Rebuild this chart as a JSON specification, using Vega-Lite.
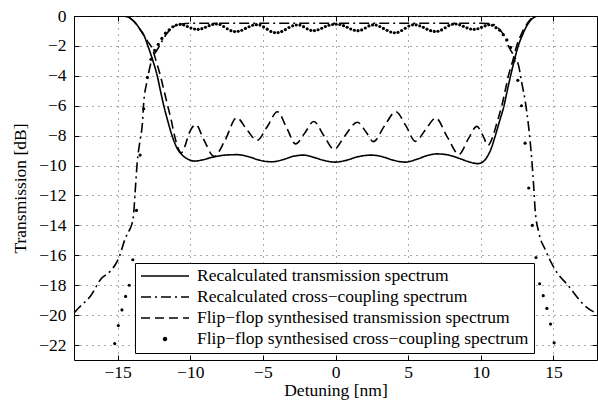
{
 "$schema": "https://vega.github.io/schema/vega-lite/v6.json",
 "width": 523, "height": 344,
 "autosize": {"type": "none"},
 "padding": {"left": 74, "top": 16, "right": 1, "bottom": 41},
 "background": "white",
 "config": {
  "view": {"stroke": "black", "strokeWidth": 1},
  "font": "Liberation Serif",
  "axis": {"labelFont": "Liberation Serif", "labelFontSize": 17.5, "labelColor": "black", "titleFont": "Liberation Serif", "titleFontSize": 17.5, "titleFontWeight": "normal", "titleColor": "black", "tickColor": "black", "tickSize": -5, "domain": false}
 },
 "data": {"values": [
  {"s":"a","x":-18,"y":0},{"s":"a","x":-15,"y":0},{"s":"a","x":-14.5,"y":-0.02},{"s":"a","x":-14.2,"y":-0.1},{"s":"a","x":-14.0,"y":-0.25},{"s":"a","x":-13.7,"y":-0.55},{"s":"a","x":-13.45,"y":-0.9},{"s":"a","x":-13.2,"y":-1.25},{"s":"a","x":-12.95,"y":-1.9},{"s":"a","x":-12.6,"y":-2.9},{"s":"a","x":-12.27,"y":-4.0},{"s":"a","x":-12.05,"y":-5.0},{"s":"a","x":-11.82,"y":-6.0},{"s":"a","x":-11.55,"y":-7.0},{"s":"a","x":-11.25,"y":-8.0},{"s":"a","x":-10.95,"y":-8.75},{"s":"a","x":-10.6,"y":-9.25},{"s":"a","x":-10.2,"y":-9.55},{"s":"a","x":-9.7,"y":-9.7},{"s":"a","x":-9.2,"y":-9.63},{"s":"a","x":-8.5,"y":-9.45},{"s":"a","x":-7.6,"y":-9.3},{"s":"a","x":-6.8,"y":-9.27},{"s":"a","x":-6.0,"y":-9.4},{"s":"a","x":-5.2,"y":-9.65},{"s":"a","x":-4.4,"y":-9.75},{"s":"a","x":-3.6,"y":-9.6},{"s":"a","x":-2.9,"y":-9.38},{"s":"a","x":-2.2,"y":-9.3},{"s":"a","x":-1.5,"y":-9.45},{"s":"a","x":-0.7,"y":-9.68},{"s":"a","x":0,"y":-9.77},{"s":"a","x":0.7,"y":-9.66},{"s":"a","x":1.5,"y":-9.42},{"s":"a","x":2.45,"y":-9.3},{"s":"a","x":3.2,"y":-9.4},{"s":"a","x":4.0,"y":-9.65},{"s":"a","x":4.8,"y":-9.77},{"s":"a","x":5.6,"y":-9.58},{"s":"a","x":6.3,"y":-9.33},{"s":"a","x":7.0,"y":-9.22},{"s":"a","x":7.8,"y":-9.3},{"s":"a","x":8.6,"y":-9.55},{"s":"a","x":9.3,"y":-9.78},{"s":"a","x":9.8,"y":-9.87},{"s":"a","x":10.15,"y":-9.75},{"s":"a","x":10.45,"y":-9.4},{"s":"a","x":10.7,"y":-8.9},{"s":"a","x":11.0,"y":-8.0},{"s":"a","x":11.3,"y":-7.0},{"s":"a","x":11.6,"y":-6.0},{"s":"a","x":11.82,"y":-5.0},{"s":"a","x":12.05,"y":-4.0},{"s":"a","x":12.3,"y":-3.0},{"s":"a","x":12.58,"y":-2.0},{"s":"a","x":12.9,"y":-1.2},{"s":"a","x":13.2,"y":-0.6},{"s":"a","x":13.5,"y":-0.22},{"s":"a","x":13.72,"y":-0.06},{"s":"a","x":14,"y":0},{"s":"a","x":18,"y":0},
  {"s":"b","x":-18,"y":-19.85},{"s":"b","x":-17.65,"y":-19.49},{"s":"b","x":-16.85,"y":-18.71},{"s":"b","x":-16.16,"y":-17.6},{"s":"b","x":-15.48,"y":-17.04},{"s":"b","x":-15.14,"y":-16.6},{"s":"b","x":-14.91,"y":-16.16},{"s":"b","x":-14.45,"y":-14.82},{"s":"b","x":-14.22,"y":-14.38},{"s":"b","x":-13.99,"y":-13.82},{"s":"b","x":-13.9,"y":-13.3},{"s":"b","x":-13.8,"y":-11.9},{"s":"b","x":-13.65,"y":-9.82},{"s":"b","x":-13.45,"y":-8.3},{"s":"b","x":-13.3,"y":-7.27},{"s":"b","x":-13.2,"y":-5.8},{"s":"b","x":-12.97,"y":-4.35},{"s":"b","x":-12.62,"y":-2.85},{"s":"b","x":-12.28,"y":-2.27},{"s":"b","x":-11.95,"y":-1.7},{"s":"b","x":-11.6,"y":-1.16},{"s":"b","x":-11.2,"y":-0.75},{"s":"b","x":-10.9,"y":-0.6},{"s":"b","x":-10.5,"y":-0.52},{"s":"b","x":-10,"y":-0.48},{"s":"b","x":-5,"y":-0.48},{"s":"b","x":0,"y":-0.48},{"s":"b","x":5,"y":-0.48},{"s":"b","x":10,"y":-0.48},{"s":"b","x":10.7,"y":-0.52},{"s":"b","x":11.2,"y":-0.8},{"s":"b","x":11.6,"y":-1.3},{"s":"b","x":11.92,"y":-2.04},{"s":"b","x":12.3,"y":-2.7},{"s":"b","x":12.6,"y":-3.3},{"s":"b","x":12.83,"y":-4.5},{"s":"b","x":13.06,"y":-5.7},{"s":"b","x":13.29,"y":-7.38},{"s":"b","x":13.51,"y":-9.6},{"s":"b","x":13.65,"y":-11.5},{"s":"b","x":13.74,"y":-12.93},{"s":"b","x":14.0,"y":-14.5},{"s":"b","x":14.43,"y":-15.6},{"s":"b","x":15.1,"y":-16.93},{"s":"b","x":16.03,"y":-18.04},{"s":"b","x":17.17,"y":-19.38},{"s":"b","x":18,"y":-19.9},
  {"s":"c","x":-18,"y":0},{"s":"c","x":-15,"y":0},{"s":"c","x":-14.5,"y":-0.02},{"s":"c","x":-14.2,"y":-0.1},{"s":"c","x":-14.0,"y":-0.25},{"s":"c","x":-13.7,"y":-0.55},{"s":"c","x":-13.45,"y":-0.9},{"s":"c","x":-13.2,"y":-1.3},{"s":"c","x":-12.9,"y":-1.75},{"s":"c","x":-12.65,"y":-2.1},{"s":"c","x":-12.35,"y":-3.0},{"s":"c","x":-12.05,"y":-4.0},{"s":"c","x":-11.8,"y":-5.0},{"s":"c","x":-11.55,"y":-6.0},{"s":"c","x":-11.3,"y":-7.0},{"s":"c","x":-11.08,"y":-8.0},{"s":"c","x":-10.85,"y":-8.8},{"s":"c","x":-10.62,"y":-9.15},{"s":"c","x":-10.4,"y":-8.8},{"s":"c","x":-10.1,"y":-7.9},{"s":"c","x":-9.6,"y":-7.27},{"s":"c","x":-9.1,"y":-8.2},{"s":"c","x":-8.35,"y":-9.38},{"s":"c","x":-7.6,"y":-8.3},{"s":"c","x":-6.8,"y":-6.8},{"s":"c","x":-6.1,"y":-7.6},{"s":"c","x":-5.4,"y":-8.32},{"s":"c","x":-4.7,"y":-7.4},{"s":"c","x":-4.0,"y":-6.4},{"s":"c","x":-3.35,"y":-7.5},{"s":"c","x":-2.75,"y":-8.55},{"s":"c","x":-2.1,"y":-7.8},{"s":"c","x":-1.5,"y":-7.05},{"s":"c","x":-0.8,"y":-8.0},{"s":"c","x":-0.1,"y":-8.9},{"s":"c","x":0.65,"y":-8.0},{"s":"c","x":1.5,"y":-7.1},{"s":"c","x":2.1,"y":-7.75},{"s":"c","x":2.6,"y":-8.4},{"s":"c","x":3.4,"y":-7.3},{"s":"c","x":4.15,"y":-6.4},{"s":"c","x":4.85,"y":-7.35},{"s":"c","x":5.5,"y":-8.38},{"s":"c","x":6.2,"y":-7.6},{"s":"c","x":6.9,"y":-6.82},{"s":"c","x":7.7,"y":-8.1},{"s":"c","x":8.5,"y":-9.25},{"s":"c","x":9.15,"y":-8.2},{"s":"c","x":9.73,"y":-7.38},{"s":"c","x":10.15,"y":-8.0},{"s":"c","x":10.5,"y":-8.65},{"s":"c","x":10.85,"y":-8.0},{"s":"c","x":11.15,"y":-7.0},{"s":"c","x":11.45,"y":-6.0},{"s":"c","x":11.68,"y":-5.0},{"s":"c","x":11.9,"y":-4.0},{"s":"c","x":12.2,"y":-3.0},{"s":"c","x":12.47,"y":-2.0},{"s":"c","x":12.85,"y":-1.1},{"s":"c","x":13.2,"y":-0.5},{"s":"c","x":13.5,"y":-0.15},{"s":"c","x":13.7,"y":-0.04},{"s":"c","x":14,"y":0},{"s":"c","x":18,"y":0},
  {"s":"d","x":-15.2,"y":-21.9},{"s":"d","x":-14.95,"y":-20.7},{"s":"d","x":-14.7,"y":-19.65},{"s":"d","x":-14.45,"y":-18.75},{"s":"d","x":-14.2,"y":-18.0},{"s":"d","x":-13.95,"y":-16.3},{"s":"d","x":-13.7,"y":-13.0},{"s":"d","x":-13.45,"y":-9.3},{"s":"d","x":-13.2,"y":-6.2},{"s":"d","x":-12.95,"y":-4.1},{"s":"d","x":-12.7,"y":-2.9},{"s":"d","x":-12.45,"y":-2.3},{"s":"d","x":-12.2,"y":-1.9},{"s":"d","x":-11.95,"y":-1.5},{"s":"d","x":-11.7,"y":-1.15},{"s":"d","x":-11.45,"y":-0.92},{"s":"d","x":-11.2,"y":-0.72},{"s":"d","x":-10.95,"y":-0.6},{"s":"d","x":-10.7,"y":-0.56},{"s":"d","x":-10.45,"y":-0.6},{"s":"d","x":-10.2,"y":-0.7},{"s":"d","x":-9.95,"y":-0.8},{"s":"d","x":-9.7,"y":-0.87},{"s":"d","x":-9.45,"y":-0.89},{"s":"d","x":-9.2,"y":-0.845},{"s":"d","x":-8.95,"y":-0.75},{"s":"d","x":-8.7,"y":-0.645},{"s":"d","x":-8.45,"y":-0.56},{"s":"d","x":-8.2,"y":-0.53},{"s":"d","x":-7.95,"y":-0.57},{"s":"d","x":-7.7,"y":-0.7},{"s":"d","x":-7.45,"y":-0.85},{"s":"d","x":-7.2,"y":-0.98},{"s":"d","x":-6.95,"y":-1.04},{"s":"d","x":-6.7,"y":-1.02},{"s":"d","x":-6.45,"y":-0.95},{"s":"d","x":-6.2,"y":-0.83},{"s":"d","x":-5.95,"y":-0.72},{"s":"d","x":-5.7,"y":-0.62},{"s":"d","x":-5.45,"y":-0.58},{"s":"d","x":-5.2,"y":-0.61},{"s":"d","x":-4.95,"y":-0.73},{"s":"d","x":-4.7,"y":-0.88},{"s":"d","x":-4.45,"y":-1.03},{"s":"d","x":-4.2,"y":-1.11},{"s":"d","x":-3.95,"y":-1.11},{"s":"d","x":-3.7,"y":-1.03},{"s":"d","x":-3.45,"y":-0.91},{"s":"d","x":-3.2,"y":-0.77},{"s":"d","x":-2.95,"y":-0.66},{"s":"d","x":-2.7,"y":-0.6},{"s":"d","x":-2.45,"y":-0.61},{"s":"d","x":-2.2,"y":-0.715},{"s":"d","x":-1.95,"y":-0.86},{"s":"d","x":-1.7,"y":-0.96},{"s":"d","x":-1.45,"y":-0.975},{"s":"d","x":-1.2,"y":-0.92},{"s":"d","x":-0.95,"y":-0.82},{"s":"d","x":-0.7,"y":-0.71},{"s":"d","x":-0.45,"y":-0.62},{"s":"d","x":-0.2,"y":-0.57},{"s":"d","x":0.05,"y":-0.55},{"s":"d","x":0.3,"y":-0.57},{"s":"d","x":0.55,"y":-0.645},{"s":"d","x":0.8,"y":-0.75},{"s":"d","x":1.05,"y":-0.87},{"s":"d","x":1.3,"y":-0.95},{"s":"d","x":1.55,"y":-0.98},{"s":"d","x":1.8,"y":-0.93},{"s":"d","x":2.05,"y":-0.8},{"s":"d","x":2.3,"y":-0.665},{"s":"d","x":2.55,"y":-0.595},{"s":"d","x":2.8,"y":-0.61},{"s":"d","x":3.05,"y":-0.7},{"s":"d","x":3.3,"y":-0.83},{"s":"d","x":3.55,"y":-0.96},{"s":"d","x":3.8,"y":-1.07},{"s":"d","x":4.05,"y":-1.12},{"s":"d","x":4.3,"y":-1.09},{"s":"d","x":4.55,"y":-0.97},{"s":"d","x":4.8,"y":-0.82},{"s":"d","x":5.05,"y":-0.67},{"s":"d","x":5.3,"y":-0.59},{"s":"d","x":5.55,"y":-0.59},{"s":"d","x":5.8,"y":-0.66},{"s":"d","x":6.05,"y":-0.76},{"s":"d","x":6.3,"y":-0.88},{"s":"d","x":6.55,"y":-0.98},{"s":"d","x":6.8,"y":-1.03},{"s":"d","x":7.05,"y":-1.02},{"s":"d","x":7.3,"y":-0.93},{"s":"d","x":7.55,"y":-0.785},{"s":"d","x":7.8,"y":-0.64},{"s":"d","x":8.05,"y":-0.55},{"s":"d","x":8.3,"y":-0.535},{"s":"d","x":8.55,"y":-0.59},{"s":"d","x":8.8,"y":-0.69},{"s":"d","x":9.05,"y":-0.79},{"s":"d","x":9.3,"y":-0.87},{"s":"d","x":9.55,"y":-0.89},{"s":"d","x":9.8,"y":-0.85},{"s":"d","x":10.05,"y":-0.76},{"s":"d","x":10.3,"y":-0.66},{"s":"d","x":10.55,"y":-0.58},{"s":"d","x":10.8,"y":-0.62},{"s":"d","x":11.05,"y":-0.78},{"s":"d","x":11.3,"y":-0.95},{"s":"d","x":11.55,"y":-1.25},{"s":"d","x":11.8,"y":-1.6},{"s":"d","x":12.05,"y":-2.1},{"s":"d","x":12.3,"y":-3.0},{"s":"d","x":12.55,"y":-4.3},{"s":"d","x":12.8,"y":-6.0},{"s":"d","x":13.05,"y":-8.5},{"s":"d","x":13.3,"y":-11.5},{"s":"d","x":13.55,"y":-14.0},{"s":"d","x":13.8,"y":-16.15},{"s":"d","x":14.05,"y":-17.9},{"s":"d","x":14.3,"y":-18.7},{"s":"d","x":14.55,"y":-19.55},{"s":"d","x":14.8,"y":-20.6},{"s":"d","x":15.05,"y":-21.85}
 ]},
 "layer": [
  {
   "transform": [{"filter": "datum.s != 'd'"}],
   "mark": {"type": "line", "interpolate": "monotone", "strokeWidth": 1.6, "color": "black", "clip": true},
   "encoding": {
    "x": {"field": "x", "type": "quantitative", "scale": {"domain": [-18, 18], "nice": false, "zero": false},
     "axis": {"orient": "bottom", "values": [-15, -10, -5, 0, 5, 10, 15], "title": "Detuning [nm]", "grid": true, "gridDash": [1, 5], "gridColor": "#555", "labelPadding": 8, "titlePadding": 1}},
    "y": {"field": "y", "type": "quantitative", "scale": {"domain": [-23, 0], "nice": false, "zero": false},
     "axis": {"orient": "left", "values": [0, -2, -4, -6, -8, -10, -12, -14, -16, -18, -20, -22], "title": "Transmission [dB]", "grid": true, "gridDash": [1, 5], "gridColor": "#555", "labelPadding": 13, "titlePadding": 9}},
    "strokeDash": {"field": "s", "type": "nominal",
     "scale": {"domain": ["a", "b", "c", "d"], "range": [[1, 0], [10, 4, 2, 4], [9, 5], [1, 0]]},
     "legend": {"orient": "none", "legendX": 61, "legendY": 247, "title": null, "direction": "vertical",
      "symbolType": "stroke", "symbolSize": 2304, "symbolStrokeWidth": 1.6, "symbolStrokeColor": "black",
      "clipHeight": 16,
      "labelFont": "Liberation Serif", "labelFontSize": 17.5, "labelColor": "black", "labelLimit": 0, "labelOffset": 7,
      "strokeColor": "black", "fillColor": "white", "padding": 5, "rowPadding": 3,
      "labelExpr": "datum.value == 'a' ? 'Recalculated transmission spectrum' : datum.value == 'b' ? 'Recalculated cross−coupling spectrum' : datum.value == 'c' ? 'Flip−flop synthesised transmission spectrum' : 'Flip−flop synthesised cross−coupling spectrum'",
      "encode": {"symbols": {"update": {
       "shape": {"signal": "datum.value == 'd' ? 'M-0.06,0A0.06,0.06,0,1,1,0.06,0A0.06,0.06,0,1,1,-0.06,0Z' : 'stroke'"},
       "fill": {"signal": "datum.value == 'd' ? 'black' : 'transparent'"},
       "stroke": {"value": "black"}
      }}}
     }}
   }
  },
  {
   "transform": [{"filter": "datum.s == 'd'"}],
   "mark": {"type": "circle", "size": 10, "color": "black", "opacity": 1, "clip": true},
   "encoding": {
    "x": {"field": "x", "type": "quantitative", "scale": {"domain": [-18, 18], "nice": false, "zero": false},
     "axis": {"orient": "top", "values": [-15, -10, -5, 0, 5, 10, 15], "title": null, "labels": false, "grid": false}},
    "y": {"field": "y", "type": "quantitative", "scale": {"domain": [-23, 0], "nice": false, "zero": false},
     "axis": {"orient": "right", "values": [0, -2, -4, -6, -8, -10, -12, -14, -16, -18, -20, -22], "title": null, "labels": false, "grid": false}}
   }
  }
 ],
 "resolve": {"axis": {"x": "independent", "y": "independent"}}
}
